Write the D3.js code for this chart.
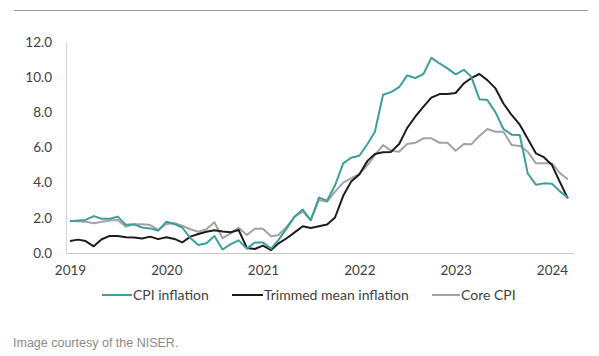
<!DOCTYPE html>
<html>
<head>
<meta charset="utf-8">
<script src="https://cdn.jsdelivr.net/npm/d3@7"></script>
<style>
  html, body { margin: 0; padding: 0; background: #fff; }
  svg { display: block; }
</style>
</head>
<body>
<svg id="chart" width="599" height="356"></svg>
<script>
// ---- data (monthly, Jan 2019 – Mar 2024) ----
const startMonth = "2019-01";
const monthCount = 63;
const cpiInflation = [
  1.80, 1.85, 1.88, 2.10, 1.95, 1.95, 2.07, 1.60, 1.63, 1.45, 1.40, 1.27,
  1.78, 1.65, 1.45, 0.85, 0.45, 0.55, 0.97, 0.20, 0.50, 0.72, 0.25, 0.60,
  0.60, 0.25, 0.75, 1.40, 2.07, 2.47, 1.86, 3.15, 2.98, 3.85, 5.10, 5.42,
  5.53, 6.20, 6.90, 9.00, 9.15, 9.43, 10.10, 9.95, 10.18, 11.10, 10.78, 10.50,
  10.16, 10.42, 10.03, 8.75, 8.70, 8.00, 7.05, 6.73, 6.71, 4.53, 3.88, 3.96,
  3.94, 3.49, 3.15
];
const trimmedMean = [
  0.68, 0.76, 0.68, 0.38, 0.78, 0.97, 0.97, 0.89, 0.88, 0.82, 0.93, 0.79,
  0.90, 0.80, 0.60, 0.93, 1.08, 1.21, 1.29, 1.22, 1.18, 1.31, 0.29, 0.23,
  0.42, 0.17, 0.55, 0.84, 1.17, 1.52, 1.42, 1.52, 1.62, 2.02, 3.25, 4.06,
  4.46, 5.24, 5.63, 5.73, 5.75, 6.20, 7.10, 7.75, 8.32, 8.84, 9.04, 9.04,
  9.10, 9.65, 9.94, 10.18, 9.83, 9.36, 8.50, 7.85, 7.30, 6.50, 5.67, 5.45,
  5.00, 4.00, 3.11
];
const coreCPI = [
  1.82, 1.80, 1.78, 1.69, 1.78, 1.85, 1.88, 1.50, 1.63, 1.63, 1.59, 1.31,
  1.65, 1.69, 1.55, 1.35, 1.21, 1.35, 1.75, 0.84, 1.12, 1.44, 1.02, 1.38,
  1.38, 0.95, 1.02, 1.50, 2.07, 2.35, 1.88, 3.01, 2.92, 3.49, 4.00, 4.25,
  4.50, 5.00, 5.57, 6.14, 5.82, 5.76, 6.20, 6.27, 6.52, 6.52, 6.27, 6.27,
  5.82, 6.20, 6.18, 6.66, 7.05, 6.90, 6.90, 6.14, 6.09, 5.76, 5.10, 5.10,
  5.10, 4.53, 4.19
];
const seriesNames = ["CPI inflation", "Trimmed mean inflation", "Core CPI"];
const seriesColors = ["#3d9f99", "#1c1c1c", "#a3a3a3"];
const yTicks = [0, 2, 4, 6, 8, 10, 12];
const xTickYears = ["2019", "2020", "2021", "2022", "2023", "2024"];
const caption = "Image courtesy of the NISER.";

// ---- build ----
const parseMonth = d3.timeParse("%Y-%m");
const t0 = parseMonth(startMonth);
const dates = d3.range(monthCount).map(i => d3.timeMonth.offset(t0, i));
const allSeries = [cpiInflation, trimmedMean, coreCPI];

const svg = d3.select("#chart");

// top rule
svg.append("line")
  .attr("x1", 14).attr("x2", 588).attr("y1", 10.5).attr("y2", 10.5)
  .attr("stroke", "#9a9a9a").attr("stroke-width", 1);

const x = d3.scaleTime()
  .domain([parseMonth("2019-01"), parseMonth("2024-01")])
  .range([70, 552]);
const y = d3.scaleLinear().domain([0, 12]).range([253, 42]);

const fontFamily = "Lato, 'Open Sans', sans-serif";

// y axis
const yAxis = svg.append("g")
  .attr("transform", "translate(66,0)")
  .call(d3.axisLeft(y).tickValues(yTicks).tickSize(0).tickPadding(14)
    .tickFormat(d3.format(".1f")));
yAxis.select(".domain").attr("stroke", "#d4d4d4");
yAxis.selectAll("text").attr("font-family", fontFamily).attr("font-size", 13.5)
  .attr("fill", "#404040");

// x axis
const xAxis = svg.append("g")
  .attr("transform", "translate(0,253)")
  .call(d3.axisBottom(x)
    .tickValues(xTickYears.map(s => d3.timeParse("%Y")(s)))
    .tickSize(0).tickPadding(12)
    .tickFormat(d3.timeFormat("%Y")));
xAxis.select(".domain").attr("stroke", "#c8c8c8")
  .attr("d", "M66,0.5H574");
xAxis.selectAll("text").attr("font-family", fontFamily).attr("font-size", 13.5)
  .attr("fill", "#404040");

// lines
const line = d3.line()
  .x((d, i) => x(dates[i]))
  .y(d => y(d));

[2, 1, 0].forEach(k => {
  svg.append("path")
    .datum(allSeries[k])
    .attr("fill", "none")
    .attr("stroke", seriesColors[k])
    .attr("stroke-width", 2)
    .attr("stroke-linejoin", "round")
    .attr("d", line);
});

// legend
const legendItems = [
  { x: 102, w: 30 },
  { x: 232, w: 31 },
  { x: 432, w: 28 }
];
seriesNames.forEach((name, k) => {
  const g = svg.append("g").attr("transform", `translate(${legendItems[k].x},295)`);
  g.append("line").attr("x1", 0).attr("x2", legendItems[k].w)
    .attr("y1", 0).attr("y2", 0)
    .attr("stroke", seriesColors[k]).attr("stroke-width", 2);
  g.append("text").attr("x", legendItems[k].w + 1).attr("y", 5)
    .attr("font-family", fontFamily).attr("font-size", 14)
    .attr("fill", "#404040").text(name);
});

// caption
svg.append("text").attr("x", 13).attr("y", 347)
  .attr("font-family", "'Liberation Sans', Arial, sans-serif")
  .attr("font-size", 12.5).attr("fill", "#8a8a8a").text(caption);
</script>
</body>
</html>
